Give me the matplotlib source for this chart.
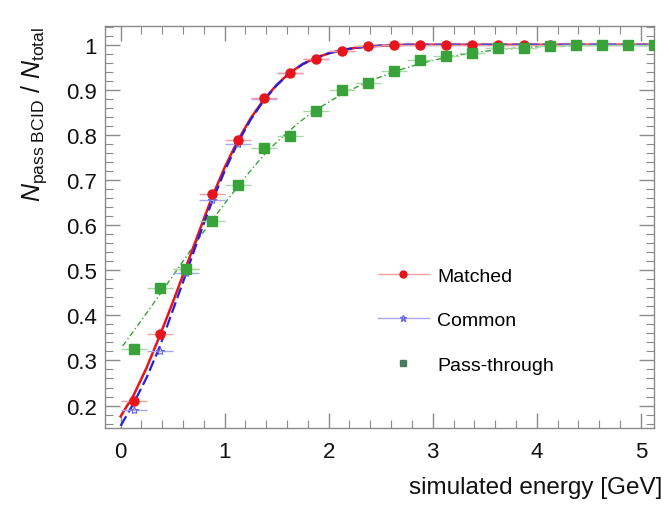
import matplotlib
matplotlib.use("Agg")
import matplotlib.pyplot as plt
from matplotlib.ticker import MultipleLocator, FixedLocator
from matplotlib.lines import Line2D

plt.rcParams["font.family"] = ["Liberation Sans", "DejaVu Sans"]
plt.rcParams["mathtext.fontset"] = "custom"
plt.rcParams["mathtext.rm"] = "Liberation Sans"
plt.rcParams["mathtext.it"] = "Liberation Sans:italic"

# ── Data ─────────────────────────────────────────────────────────────────────
energy = [0.125, 0.375, 0.625, 0.875, 1.125, 1.375, 1.625, 1.875, 2.125, 2.375,
          2.625, 2.875, 3.125, 3.375, 3.625, 3.875, 4.125, 4.375, 4.625, 4.875, 5.125]
bin_half = 0.125

matched = [0.211, 0.358, 0.502, 0.670, 0.789, 0.882, 0.938, 0.969, 0.986, 0.997,
           1.0, 1.0, 1.0, 1.0, 1.0, 1.0, 1.0, 1.0, 1.0, 1.0, 1.0]
common = [0.189, 0.322, 0.495, 0.656, 0.781, 0.879, 0.937, 0.969, 0.986, 0.997,
          1.0, 1.0, 1.0, 1.0, 1.0, 1.0, 1.0, 1.0, 1.0, 1.0, 1.0]
passthrough = [0.325, 0.461, 0.502, 0.609, 0.690, 0.772, 0.797, 0.854, 0.899, 0.916,
               0.942, 0.967, 0.975, 0.982, 0.993, 0.993, 0.998, 1.0, 1.0, 1.0, 1.0]

# fit curves, sampled by eye
fit_x = [0.0, 0.125, 0.25, 0.375, 0.5, 0.625, 0.75, 0.875, 1.0, 1.125, 1.25, 1.375,
         1.5, 1.625, 1.75, 1.875, 2.0, 2.125, 2.25, 2.375, 2.5, 2.75, 3.0, 5.13]
fit_matched = [0.176, 0.223, 0.284, 0.354, 0.428, 0.505, 0.583, 0.660, 0.728, 0.787,
               0.837, 0.878, 0.911, 0.938, 0.957, 0.971, 0.981, 0.988, 0.993, 0.996,
               0.998, 1.0, 1.0, 1.0]
fit_common = [0.155, 0.205, 0.262, 0.330, 0.410, 0.490, 0.572, 0.650, 0.720, 0.782,
              0.834, 0.876, 0.910, 0.937, 0.957, 0.971, 0.981, 0.988, 0.993, 0.996,
              0.998, 1.0, 1.0, 1.0]

fit_pt_x = [0.02, 0.25, 0.5, 0.75, 0.875, 1.0, 1.125, 1.25, 1.375, 1.5, 1.625, 1.75,
            1.875, 2.0, 2.125, 2.375, 2.625, 2.875, 3.125, 3.375, 3.625, 3.875, 4.125,
            4.5, 5.13]
fit_pt = [0.332, 0.405, 0.487, 0.570, 0.610, 0.648, 0.685, 0.721, 0.755, 0.784, 0.810,
          0.834, 0.855, 0.873, 0.890, 0.918, 0.940, 0.958, 0.972, 0.982, 0.989, 0.994,
          0.997, 0.999, 1.0]

# ── Style ────────────────────────────────────────────────────────────────────
RED = "#e8141c"
BLUE = "#2222dd"
GREEN = "#3aa23a"
FRAME = "#8a8a8a"

fig = plt.figure(figsize=(6.69, 5.06), dpi=100)
ax = fig.add_axes([0.157, 0.152, 0.821, 0.795])

# fits
ax.plot(fit_pt_x, fit_pt, color=GREEN, lw=1.0, ls=(0, (4, 2, 1, 2)), zorder=2)
ax.plot(fit_x, fit_matched, color=RED, lw=1.8, zorder=3)
ax.plot(fit_x, fit_common, color=BLUE, lw=1.6, ls=(0, (5, 2)), zorder=4)

# data points
ax.errorbar(energy, common, xerr=bin_half, fmt="*", color="#6a6ae8", ms=6,
            mfc="none", mew=0.8, ecolor="#a8a8f0", elinewidth=1.0, zorder=4.5)
ax.errorbar(energy, matched, xerr=bin_half, fmt="o", color=RED, ms=6.5,
            ecolor="#f4a0a0", elinewidth=1.0, zorder=5)
ax.errorbar(energy, passthrough, xerr=bin_half, fmt="s", color=GREEN, ms=7,
            ecolor="#a8d8a8", elinewidth=1.0, zorder=7)

ax.set_xlim(-0.15, 5.13)
ax.set_ylim(0.15, 1.042)

ax.xaxis.set_major_locator(FixedLocator([0, 1, 2, 3, 4, 5]))
ax.xaxis.set_minor_locator(MultipleLocator(0.2))
ax.yaxis.set_major_locator(FixedLocator([0.2, 0.3, 0.4, 0.5, 0.6, 0.7, 0.8, 0.9, 1.0]))
ax.yaxis.set_minor_locator(MultipleLocator(0.02))
ax.set_yticklabels(["0.2", "0.3", "0.4", "0.5", "0.6", "0.7", "0.8", "0.9", "1"])

ax.tick_params(which="both", direction="in", top=True, right=True, color=FRAME,
               labelsize=16, labelcolor="#111111")
ax.tick_params(which="major", length=11, width=1.0, pad=6)
ax.tick_params(which="minor", length=5.5, width=0.8)
ax.tick_params(axis="x", which="major", pad=9)
for sp in ax.spines.values():
    sp.set_color(FRAME)
    sp.set_linewidth(1.0)

ax.set_xlabel("simulated energy [GeV]", fontsize=17.5, loc="right", color="#111111")
ax.xaxis.set_label_coords(1.015, -0.12)
ax.set_ylabel(r"$N_{\mathrm{pass\ BCID}}\ /\ N_{\mathrm{total}}$", fontsize=18, loc="top",
              labelpad=12, color="#111111")

handles = [
    Line2D([], [], color="#f4a0a0", lw=1.0, marker="o", mfc=RED, mec=RED, ms=5),
    Line2D([], [], color="#a8a8f0", lw=1.0, marker="*", mfc="none", mec="#6a6ae8", ms=5),
    Line2D([], [], ls="none", marker="s", mfc="#4a7a5c", mec="#4a7a5c", ms=5),
]
ax.legend(handles, ["Matched", "Common", "Pass-through"], loc="upper left",
          bbox_to_anchor=(0.497, 0.40), frameon=False, fontsize=14, borderpad=0,
          borderaxespad=0, labelspacing=1.38, handlelength=2.6, handletextpad=0.45)

fig.savefig("out.png", dpi=100)
